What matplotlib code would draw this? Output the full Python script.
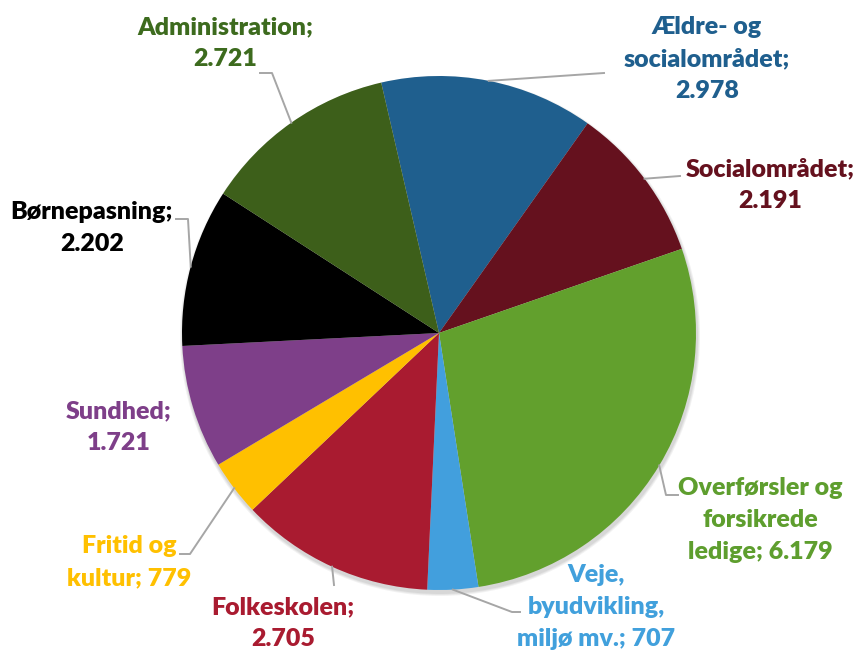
import numpy as np
import matplotlib
matplotlib.use('Agg')
import matplotlib.pyplot as plt
from matplotlib.patches import Circle

# data, clockwise from the top slice
labels = ['Ældre- og\nsocialområdet;\n2.978', 'Socialområdet;\n2.191',
          'Overførsler og\nforsikrede\nledige; 6.179', 'Veje,\nbyudvikling,\nmiljø mv.; 707',
          'Folkeskolen;\n2.705', 'Fritid og\nkultur; 779', 'Sundhed;\n1.721',
          'Børnepasning;\n2.202', 'Administration;\n2.721']
values = [2978, 2191, 6179, 707, 2705, 779, 1721, 2202, 2721]
slice_colors = ['#1F5F8E', '#65111E', '#62A02D', '#429FDD', '#A91B30',
                '#FFC000', '#7E3F89', '#000000', '#3D5F1A']
text_colors = ['#1F5F8E', '#65111E', '#5E9E2E', '#41A0DC', '#A91B30',
               '#FFC000', '#7E3F89', '#000000', '#3D6B1E']

W, H = 857, 653
CX, CY, R = 439, 333, 257
START = 103  # degrees, first slice starts a bit left of 12 o'clock

# label centres and leader line points (pixel coords, y down)
label_pos = [(707, 59), (770, 185), (760, 520), (596, 607), (283, 623),
             (129, 562), (119, 427), (92, 228), (225, 43)]
leaders = [[(604, 73)], [(680, 176)], [(666, 495), (678, 495)], [(512, 612), (520, 612)],
           [(334, 585)], [(190, 554), (180, 554)], None, [(188, 219), (176, 219)],
           [(272, 73), (260, 73)]]


def flip(x, y):
    return x, H - y


fig = plt.figure(figsize=(W / 100, H / 100), dpi=100)
ax = fig.add_axes([0, 0, 1, 1])

# faint shadow under the pie
for i, a in enumerate([0.05, 0.05, 0.06]):
    ax.add_patch(Circle(flip(CX + 1, CY + 3), R + 3 - i, color='black', alpha=a, lw=0, zorder=0))

wedges, _ = ax.pie(values, colors=slice_colors, startangle=START, counterclock=False,
                   center=flip(CX, CY), radius=R, frame=True,
                   wedgeprops=dict(linewidth=0))
ax.set_xlim(0, W)
ax.set_ylim(0, H)
ax.set_aspect('equal')
ax.axis('off')

for w, lab, col, pos, pts in zip(wedges, labels, text_colors, label_pos, leaders):
    mid = np.deg2rad((w.theta1 + w.theta2) / 2)
    ex, ey = CX + R * np.cos(mid), CY - R * np.sin(mid)
    if pts is not None:
        xs = [ex] + [p[0] for p in pts]
        ys = [ey] + [p[1] for p in pts]
        ax.plot(xs, [H - y for y in ys], color='#A6A6A6', lw=1.4, zorder=3)
    ax.text(*flip(*pos), lab, ha='center', va='center', color=col,
            fontsize=18, fontweight='heavy', family='Lato', linespacing=1.55, zorder=4)

fig.savefig('out.png', dpi=100)
